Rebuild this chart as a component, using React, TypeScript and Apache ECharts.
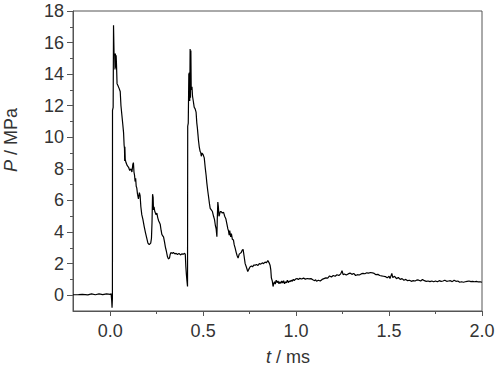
import React, { useEffect, useRef } from "react";
import * as echarts from "echarts";

const xMajorTicks = [0.0, 0.5, 1.0, 1.5, 2.0];
const xMinorTicks = [0.25, 0.75, 1.25, 1.75];
const yMajorTicks = [0, 2, 4, 6, 8, 10, 12, 14, 16, 18];
const yMinorTicks = [1, 3, 5, 7, 9, 11, 13, 15, 17];

const pressureTrace: [number, number][] = [
  [-0.2, 0.03], [-0.17, 0.04], [-0.15, 0.05], [-0.12, 0.02], [-0.1, 0.08], [-0.08, 0.03], [-0.06, 0.08],
  [-0.04, 0.04], [-0.02, 0.08], [0.0, 0.05], [0.005, 0.1], [0.008, -0.3], [0.01, -0.8], [0.012, -0.2],
  [0.0125, 11.7], [0.016, 11.9], [0.018, 17.1], [0.021, 15.2], [0.024, 15.3], [0.026, 14.3], [0.028, 15.3],
  [0.03, 14.4], [0.032, 15.2], [0.034, 14.6], [0.037, 13.4], [0.041, 13.3], [0.048, 13.1], [0.054, 12.9],
  [0.058, 12.0], [0.063, 11.4], [0.068, 10.8], [0.072, 10.3], [0.075, 9.5], [0.077, 9.3], [0.078, 8.5],
  [0.079, 9.4], [0.081, 8.6], [0.085, 8.4], [0.092, 8.2], [0.099, 8.1], [0.105, 7.9], [0.112, 8.0],
  [0.117, 7.8], [0.122, 8.3], [0.125, 8.4], [0.128, 7.8], [0.131, 7.6], [0.134, 7.2], [0.137, 7.4],
  [0.14, 6.9], [0.143, 6.8], [0.147, 6.4], [0.152, 6.1], [0.157, 6.5], [0.161, 6.3], [0.165, 5.6],
  [0.17, 5.1], [0.176, 4.8], [0.183, 4.35], [0.19, 3.95], [0.197, 3.6], [0.203, 3.3], [0.21, 3.2],
  [0.218, 3.3], [0.222, 3.6], [0.225, 4.6], [0.228, 6.4], [0.231, 6.2], [0.233, 5.4], [0.236, 5.6],
  [0.24, 5.3], [0.247, 5.1], [0.251, 5.2], [0.256, 4.9], [0.261, 4.7], [0.265, 4.6], [0.269, 4.5],
  [0.274, 4.1], [0.278, 3.85], [0.283, 3.75], [0.287, 3.7], [0.292, 3.4], [0.297, 3.05], [0.302, 2.8],
  [0.308, 2.45], [0.313, 2.3], [0.319, 2.35], [0.323, 2.6], [0.327, 2.7], [0.333, 2.65], [0.34, 2.7],
  [0.348, 2.62], [0.355, 2.65], [0.362, 2.58], [0.37, 2.65], [0.378, 2.55], [0.385, 2.62], [0.393, 2.6],
  [0.4, 2.65], [0.404, 2.6], [0.407, 1.8], [0.41, 1.3], [0.413, 0.9], [0.416, 0.55], [0.417, 10.7],
  [0.42, 10.9], [0.423, 14.0], [0.426, 14.1], [0.428, 12.3], [0.43, 15.6], [0.432, 12.5], [0.434, 15.5],
  [0.436, 13.0], [0.44, 13.2], [0.443, 12.6], [0.447, 12.3], [0.452, 11.9], [0.457, 11.8], [0.462, 11.6],
  [0.466, 10.9], [0.469, 10.6], [0.472, 10.2], [0.475, 9.8], [0.479, 9.4], [0.484, 9.1], [0.487, 9.05],
  [0.49, 8.8], [0.494, 9.0], [0.5, 8.9], [0.506, 8.7], [0.511, 8.1], [0.516, 7.6], [0.52, 7.1],
  [0.525, 6.6], [0.529, 6.25], [0.534, 5.8], [0.538, 5.5], [0.544, 5.4], [0.55, 5.3], [0.556, 5.0],
  [0.561, 4.8], [0.566, 4.4], [0.57, 4.2], [0.574, 3.7], [0.576, 4.8], [0.579, 5.9], [0.582, 5.6],
  [0.585, 5.0], [0.588, 5.1], [0.592, 5.3], [0.597, 5.3], [0.603, 5.2], [0.61, 5.25], [0.616, 5.0],
  [0.622, 4.85], [0.628, 4.5], [0.633, 4.2], [0.636, 4.1], [0.64, 3.8], [0.643, 4.1], [0.648, 3.7],
  [0.652, 3.9], [0.657, 3.55], [0.663, 3.5], [0.667, 3.2], [0.672, 3.0], [0.678, 2.7], [0.683, 2.5],
  [0.688, 2.35], [0.694, 2.6], [0.699, 2.65], [0.705, 2.7], [0.71, 2.85], [0.715, 2.9], [0.72, 2.5],
  [0.726, 2.0], [0.732, 1.8], [0.74, 1.5], [0.746, 1.65], [0.753, 1.8], [0.76, 1.85], [0.766, 1.8],
  [0.772, 1.9], [0.78, 1.9], [0.787, 1.95], [0.795, 1.88], [0.802, 2.0], [0.81, 1.97], [0.818, 2.05],
  [0.825, 2.0], [0.833, 2.1], [0.84, 2.05], [0.848, 2.2], [0.855, 2.05], [0.86, 1.9], [0.864, 1.6],
  [0.867, 1.1], [0.872, 0.9], [0.876, 0.55], [0.88, 0.75], [0.884, 0.85], [0.888, 0.7], [0.893, 0.95],
  [0.898, 0.8], [0.903, 0.9], [0.908, 0.72], [0.913, 0.85], [0.918, 0.75], [0.923, 0.9], [0.928, 0.78],
  [0.933, 0.92], [0.938, 0.72], [0.943, 0.85], [0.948, 0.78], [0.953, 0.95], [0.958, 0.8], [0.963, 0.9],
  [0.968, 0.85], [0.973, 0.95], [0.978, 0.88], [0.985, 1.0], [0.99, 0.93], [0.997, 1.02], [1.0, 1.0],
  [1.005, 1.06], [1.012, 1.0], [1.02, 1.07], [1.03, 1.03], [1.04, 1.08], [1.05, 1.02], [1.06, 1.06],
  [1.07, 1.03], [1.08, 1.05], [1.09, 0.98], [1.1, 0.92], [1.105, 0.98], [1.11, 0.88], [1.12, 0.95],
  [1.13, 0.9], [1.14, 1.0], [1.15, 1.05], [1.16, 1.1], [1.17, 1.08], [1.18, 1.22], [1.19, 1.15],
  [1.2, 1.25], [1.21, 1.2], [1.22, 1.3], [1.23, 1.25], [1.24, 1.35], [1.247, 1.55], [1.253, 1.3],
  [1.26, 1.35], [1.27, 1.28], [1.28, 1.35], [1.29, 1.4], [1.3, 1.32], [1.31, 1.38], [1.32, 1.25],
  [1.33, 1.3], [1.34, 1.28], [1.35, 1.35], [1.36, 1.38], [1.37, 1.36], [1.38, 1.42], [1.39, 1.4],
  [1.4, 1.44], [1.41, 1.42], [1.42, 1.38], [1.43, 1.3], [1.44, 1.32], [1.45, 1.25], [1.46, 1.22],
  [1.47, 1.2], [1.48, 1.18], [1.49, 1.1], [1.5, 1.2], [1.505, 1.05], [1.515, 1.38], [1.52, 1.12],
  [1.53, 1.2], [1.54, 1.05], [1.55, 1.12], [1.56, 1.0], [1.57, 1.05], [1.58, 0.95], [1.59, 1.0],
  [1.6, 0.92], [1.61, 0.95], [1.62, 0.88], [1.63, 0.92], [1.64, 0.9], [1.65, 0.97], [1.66, 0.95],
  [1.67, 0.9], [1.68, 1.0], [1.69, 0.92], [1.7, 0.88], [1.71, 0.9], [1.72, 0.86], [1.73, 0.9],
  [1.74, 0.85], [1.75, 0.9], [1.76, 0.85], [1.77, 0.92], [1.78, 0.88], [1.79, 0.9], [1.8, 0.95],
  [1.81, 0.88], [1.82, 0.9], [1.83, 0.92], [1.84, 0.86], [1.85, 0.95], [1.86, 0.88], [1.87, 0.9],
  [1.88, 0.82], [1.89, 0.85], [1.9, 0.82], [1.91, 0.85], [1.92, 0.88], [1.93, 0.9], [1.94, 0.86],
  [1.95, 0.88], [1.96, 0.85], [1.97, 0.88], [1.98, 0.84], [1.99, 0.85], [2.0, 0.82],
];

const AXIS = "#555";
const TXT = "#333";
const FONT = "'Liberation Sans', Arial, sans-serif";

export default function App() {
  const ref = useRef<HTMLDivElement>(null);
  useEffect(() => {
    if (!ref.current) return;
    const chart = echarts.init(ref.current, undefined, { renderer: "svg" });
    const baseX = {
      type: "value" as const,
      min: -0.2,
      max: 2.0,
      gridIndex: 0,
      splitLine: { show: false },
    };
    const baseY = {
      type: "value" as const,
      min: -1,
      max: 18,
      gridIndex: 0,
      splitLine: { show: false },
    };
    chart.setOption({
      animation: false,
      backgroundColor: "#fff",
      grid: {
        left: 73,
        top: 11,
        right: 16,
        bottom: 56,
        show: true,
        borderColor: AXIS,
        borderWidth: 1,
        backgroundColor: "transparent",
      },
      xAxis: [
        {
          ...baseX,
          position: "bottom",
          axisLine: { show: true, onZero: false, lineStyle: { color: AXIS, width: 1 } },
          axisTick: { show: true, inside: false, length: 5, customValues: xMajorTicks, lineStyle: { color: AXIS } },
          axisLabel: {
            customValues: xMajorTicks,
            formatter: (v: number) => v.toFixed(1),
            color: TXT,
            fontSize: 18,
            fontFamily: FONT,
            margin: 11,
          },
        },
        {
          ...baseX,
          position: "bottom",
          axisLine: { show: false, onZero: false },
          axisTick: { show: true, inside: false, length: 3, customValues: xMinorTicks, lineStyle: { color: AXIS } },
          axisLabel: { show: false },
        },
      ],
      yAxis: [
        {
          ...baseY,
          position: "left",
          axisLine: { show: true, onZero: false, lineStyle: { color: AXIS, width: 1 } },
          axisTick: { show: true, inside: false, length: 6, customValues: yMajorTicks, lineStyle: { color: AXIS } },
          axisLabel: {
            customValues: yMajorTicks,
            formatter: (v: number) => String(v),
            color: TXT,
            fontSize: 18,
            fontFamily: FONT,
            margin: 9,
          },
        },
        {
          ...baseY,
          position: "left",
          axisLine: { show: false, onZero: false },
          axisTick: { show: true, inside: false, length: 3, customValues: yMinorTicks, lineStyle: { color: AXIS } },
          axisLabel: { show: false },
        },
      ],
      graphic: [
        {
          type: "text",
          x: 288,
          y: 357,
          style: {
            text: "{i|t} / ms",
            rich: {
              i: { fontStyle: "italic", fontSize: 18, fontFamily: FONT, fill: TXT },
            },
            fontSize: 18,
            fontFamily: FONT,
            fill: TXT,
            align: "center",
            verticalAlign: "middle",
          },
        },
        {
          type: "text",
          x: 11,
          y: 140,
          rotation: Math.PI / 2,
          style: {
            text: "{i|P} / MPa",
            rich: {
              i: { fontStyle: "italic", fontSize: 18, fontFamily: FONT, fill: TXT },
            },
            fontSize: 18,
            fontFamily: FONT,
            fill: TXT,
            align: "center",
            verticalAlign: "middle",
          },
        },
      ],
      series: [
        {
          type: "line",
          xAxisIndex: 0,
          yAxisIndex: 0,
          data: pressureTrace,
          showSymbol: false,
          symbol: "none",
          lineStyle: { color: "#000", width: 1.2 },
          clip: true,
        },
      ],
    });
    return () => chart.dispose();
  }, []);
  return (
    <div
      ref={ref}
      style={{ position: "absolute", left: 0, top: 0, width: 498, height: 367 }}
    />
  );
}
